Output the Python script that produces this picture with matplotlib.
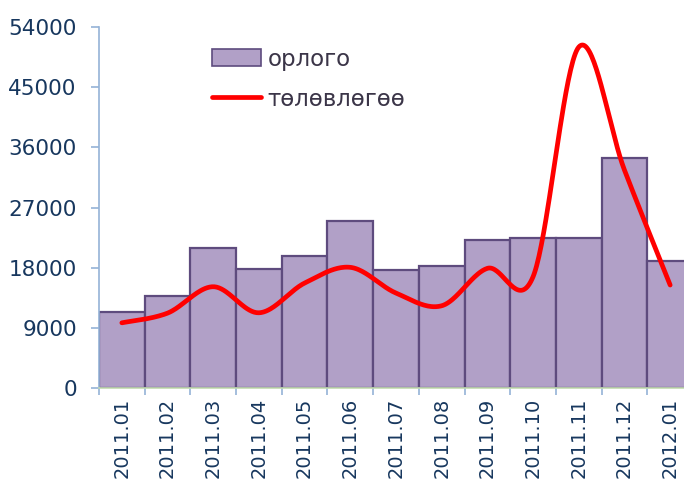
import numpy as np
import matplotlib.pyplot as plt
from matplotlib.patches import Patch
from matplotlib.lines import Line2D

months = ["2011.01", "2011.02", "2011.03", "2011.04", "2011.05", "2011.06", "2011.07",
          "2011.08", "2011.09", "2011.10", "2011.11", "2011.12", "2012.01"]
orlogo = [11300, 13800, 21000, 17800, 19750, 25000, 17700,
          18250, 22150, 22500, 22400, 34400, 19000]
tolovlogoo = [9750, 11200, 15150, 11250, 15700, 18050, 14200,
              12300, 17900, 16650, 51000, 32600, 15400]

navy = "#17375e"
fig = plt.figure(figsize=(6.84, 4.79), dpi=100)
ax = fig.add_axes([99/684, 1-388/479, 594/684, 361/479])

x = np.arange(len(months))
ax.bar(x, orlogo, width=1.0, color="#b1a0c7", edgecolor="#5e4b7e", linewidth=1.6, zorder=2)

ax.set_xlim(-0.5, len(months)-0.5)
ax.set_ylim(0, 54000)
ax.set_yticks(np.arange(0, 54001, 9000))
ax.set_xticks(x)
ax.set_xticklabels(months, rotation=90, fontsize=14, color=navy)
ax.set_xticks(np.arange(-0.5, len(months), 1), minor=True)
ax.tick_params(axis="x", which="major", length=0, pad=7)
ax.tick_params(axis="x", which="minor", length=5, color="#95b3d7", width=1.2)
ax.tick_params(axis="y", length=6, color="#95b3d7", width=1.2, labelsize=15.5, labelcolor=navy, pad=10)
for s in ["top", "right"]:
    ax.spines[s].set_visible(False)
ax.spines["left"].set_color("#95b3d7")
ax.spines["left"].set_linewidth(1.2)
ax.spines["bottom"].set_color("#c4dcb0")
ax.spines["bottom"].set_linewidth(1.2)

# smoothed line like Excel (bezier through points, computed in screen space)
fig.canvas.draw()
pts = ax.transData.transform(np.column_stack([x, tolovlogoo]))
ext = np.vstack([pts[0], pts, pts[-1]])
curve = []
t = np.linspace(0, 1, 40)[:, None]
for i in range(len(pts)-1):
    p0, p1, p2, p3 = ext[i], ext[i+1], ext[i+2], ext[i+3]
    c1 = p1 + (p2 - p0) / 6
    c2 = p2 - (p3 - p1) / 6
    seg = (1-t)**3*p1 + 3*(1-t)**2*t*c1 + 3*(1-t)*t**2*c2 + t**3*p2
    curve.append(seg)
curve = ax.transData.inverted().transform(np.vstack(curve))
ax.plot(curve[:, 0], curve[:, 1], color="red", linewidth=3.4, solid_capstyle="round", zorder=3,
        clip_on=False)

handles = [Patch(facecolor="#b1a0c7", edgecolor="#5e4b7e", linewidth=1.2),
           Line2D([], [], color="red", linewidth=3.4, solid_capstyle="round")]
ax.legend(handles, ["орлого", "төлөвлөгөө"], loc="upper left", bbox_to_anchor=(0.155, 1.0),
          frameon=False, fontsize=16.5, labelcolor="#3b3548", handlelength=2.15,
          handleheight=0.8, handletextpad=0.3, labelspacing=0.75)

fig.savefig("out.png", dpi=100)
